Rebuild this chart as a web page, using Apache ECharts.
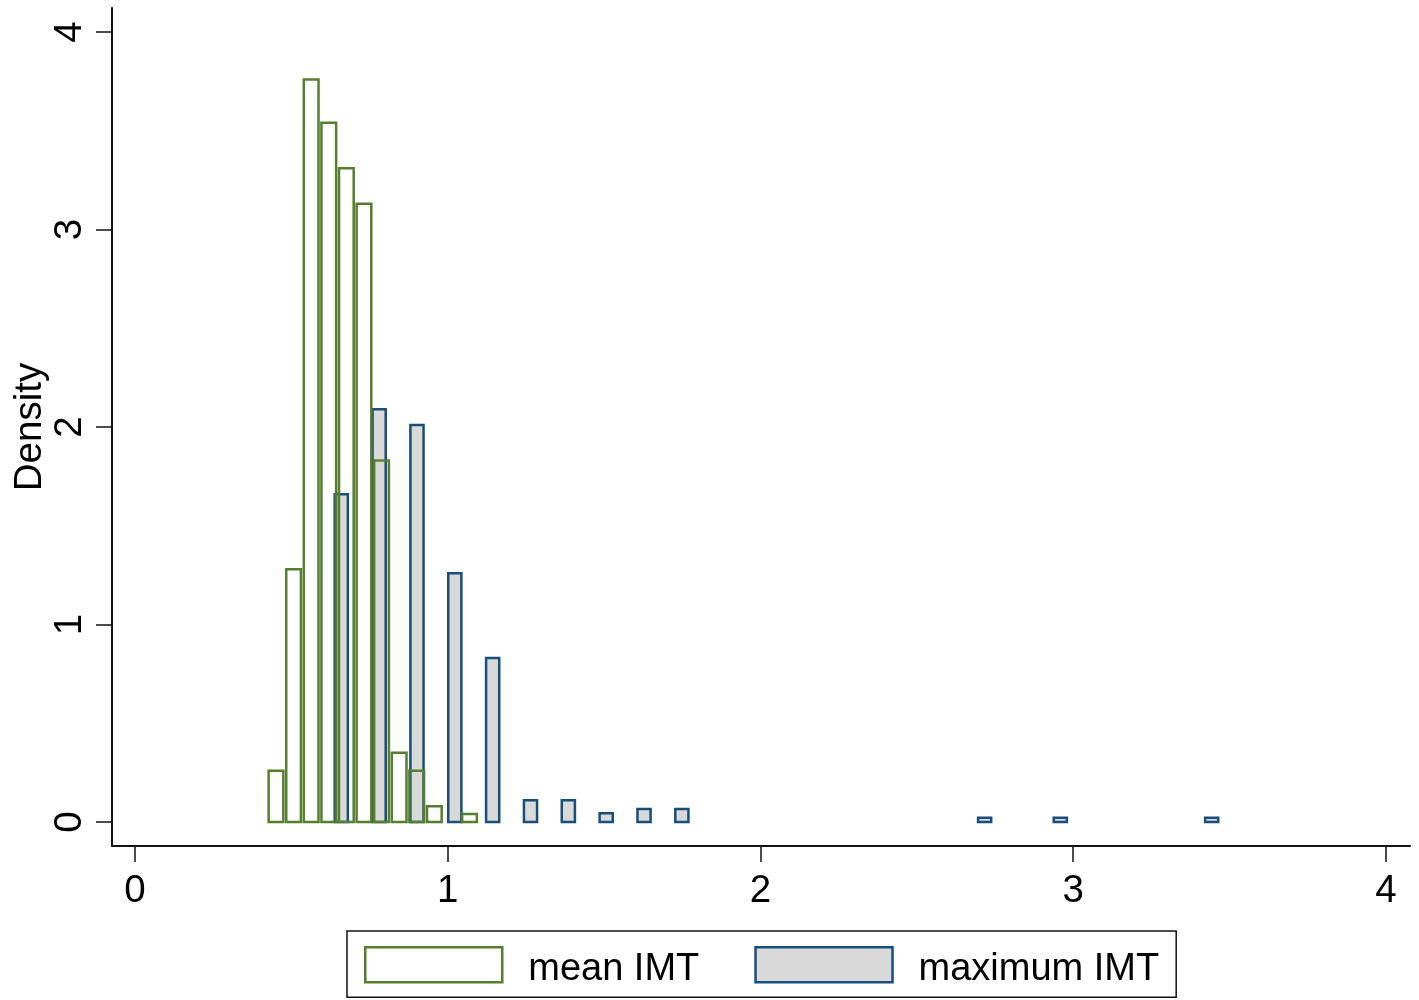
<!DOCTYPE html>
<html>
<head>
<meta charset="utf-8">
<script src="https://cdn.jsdelivr.net/npm/echarts@6/dist/echarts.min.js"></script>
<style>
  html, body { margin: 0; padding: 0; background: #fff; }
  #chart { width: 1419px; height: 1000px; }
</style>
</head>
<body>
<div id="chart"></div>
<script>
// ---- data ----
const seriesNames = ['mean IMT', 'maximum IMT'];
// bin midpoints and densities, mean IMT
const meanMid = [0.4508, 0.5071, 0.5633, 0.6196, 0.6758, 0.7321, 0.7883, 0.8446, 0.9008, 0.9571, 1.0696];
const meanDensity = [0.26, 1.28, 3.76, 3.54, 3.31, 3.13, 1.83, 0.35, 0.26, 0.08, 0.04];
// bin midpoints and densities, maximum IMT
const maxMid = [0.6596, 0.7806, 0.9016, 1.0226, 1.1436, 1.2646, 1.3856, 1.5066, 1.6276, 1.7486, 2.7166, 2.9586, 3.4426];
const maxDensity = [1.66, 2.09, 2.01, 1.26, 0.83, 0.11, 0.11, 0.044, 0.066, 0.066, 0.022, 0.022, 0.022];
// tick labels
const xTicks = [0, 1, 2, 3, 4];
const yTicks = [0, 1, 2, 3, 4];
const yTitle = 'Density';

// ---- styling ----
const GREEN = '#557f2f';
const BLUE = '#174f78';
const GRAY = '#d9d9d9';
const FONT = '"Liberation Sans", Arial, sans-serif';
const FS = 38.5;
const meanBarW = 0.047;
const maxBarW = 0.042;

function toRects(mids, dens, w) {
  return mids.map((m, i) => [m - w / 2, m + w / 2, dens[i]]);
}

function renderBar(params, api) {
  const x0 = api.value(0), x1 = api.value(1), y = api.value(2);
  const p0 = api.coord([x0, y]);
  const p1 = api.coord([x1, 0]);
  return {
    type: 'rect',
    shape: { x: p0[0], y: p0[1], width: p1[0] - p0[0], height: p1[1] - p0[1] },
    style: api.style()
  };
}

const chart = echarts.init(document.getElementById('chart'), null, { renderer: 'canvas' });

const axisLine = { show: true, onZero: false, lineStyle: { color: '#111', width: 2 } };

chart.setOption({
  animation: false,
  backgroundColor: '#fff',
  grid: { left: 112, right: 9, top: 8, bottom: 154, containLabel: false, outerBoundsMode: 'none' },
  xAxis: {
    type: 'value',
    min: -0.07354, max: 4.07674,
    axisLine: axisLine,
    splitLine: { show: false },
    axisTick: { show: true, customValues: xTicks, length: 16, lineStyle: { color: '#111', width: 1.5 } },
    axisLabel: { customValues: xTicks, fontSize: FS, fontFamily: FONT, color: '#000', margin: 26 }
  },
  yAxis: {
    type: 'value',
    min: -0.12152, max: 4.12152,
    axisLine: axisLine,
    splitLine: { show: false },
    axisTick: { show: true, customValues: yTicks, length: 16, lineStyle: { color: '#111', width: 1.5 } },
    axisLabel: { customValues: yTicks, fontSize: FS, fontFamily: FONT, color: '#000', margin: 22, rotate: 90 },
    name: yTitle,
    nameLocation: 'middle',
    nameGap: 62,
    nameMoveOverlap: false,
    nameTextStyle: { fontSize: FS, fontFamily: FONT, color: '#000' }
  },
  legend: {
    left: 347, top: 931,
    orient: 'horizontal',
    padding: [15, 17, 9, 17],
    itemWidth: 137, itemHeight: 35, itemGap: 55,
    borderColor: '#111', borderWidth: 1.5, borderRadius: 0,
    formatter: name => '{t|' + name + '}',
    textStyle: {
      fontSize: 38, fontFamily: FONT, color: '#000',
      rich: { t: { fontSize: 38, fontFamily: FONT, color: '#000', padding: [0, 0, 0, 21], height: 35, lineHeight: 44, verticalAlign: 'bottom' } }
    },
    data: [
      { name: seriesNames[0], icon: 'rect', itemStyle: { color: '#fff', borderColor: GREEN, borderWidth: 2.5 } },
      { name: seriesNames[1], icon: 'rect', itemStyle: { color: GRAY, borderColor: BLUE, borderWidth: 2.5 } }
    ]
  },
  series: [
    {
      name: seriesNames[1],
      type: 'custom',
      renderItem: renderBar,
      dimensions: ['x0', 'x1', 'y'],
      encode: { x: [0, 1], y: 2 },
      itemStyle: { color: GRAY, borderColor: BLUE, borderWidth: 2.5 },
      data: toRects(maxMid, maxDensity, maxBarW),
      z: 2
    },
    {
      name: seriesNames[0],
      type: 'custom',
      renderItem: renderBar,
      dimensions: ['x0', 'x1', 'y'],
      encode: { x: [0, 1], y: 2 },
      itemStyle: { color: 'rgba(255,255,255,0)', borderColor: GREEN, borderWidth: 2.5 },
      data: toRects(meanMid, meanDensity, meanBarW),
      z: 3
    }
  ]
});
</script>
</body>
</html>
